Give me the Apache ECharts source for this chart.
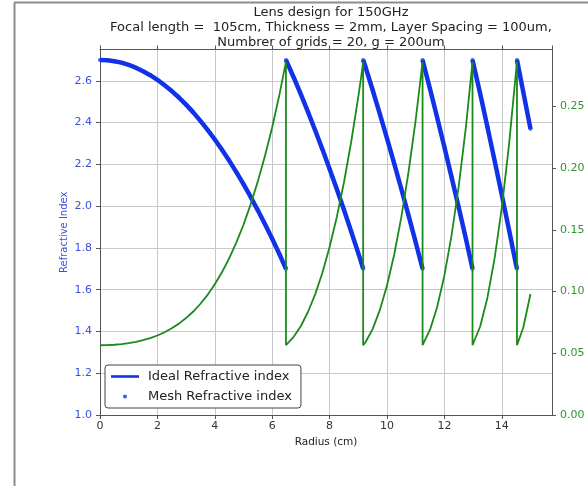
<!DOCTYPE html>
<html>
<head>
<meta charset="utf-8">
<script src="https://cdn.jsdelivr.net/npm/echarts@6/dist/echarts.min.js"></script>
<style>
  html, body { margin: 0; padding: 0; background: #fff; }
  #chart { width: 588px; height: 486px; }
</style>
</head>
<body>
<div id="chart"></div>
<script>
// radius (cm); a zone edge appears twice (end of one zone, start of the next)
const radius = [0, 0.25, 0.5, 0.75, 1, 1.25, 1.5, 1.75, 2, 2.25, 2.5, 2.75, 3, 3.25, 3.5, 3.75,
  4, 4.25, 4.5, 4.75, 5, 5.25, 5.5, 5.75, 6, 6.25, 6.48,
  6.48, 6.75, 7, 7.25, 7.5, 7.75, 8, 8.25, 8.5, 8.75, 9, 9.1, 9.17,
  9.17, 9.25, 9.5, 9.75, 10, 10.25, 10.5, 10.75, 11, 11.24,
  11.24, 11.5, 11.75, 12, 12.25, 12.5, 12.75, 12.98,
  12.98, 13.25, 13.5, 13.75, 14, 14.25, 14.5, 14.53,
  14.53, 14.75, 15];

const idealIndex = [2.700, 2.699, 2.694, 2.687, 2.676, 2.663, 2.646, 2.627, 2.605, 2.579, 2.551, 2.520, 2.486, 2.449, 2.408, 2.365,
  2.319, 2.270, 2.218, 2.163, 2.105, 2.044, 1.980, 1.913, 1.844, 1.771, 1.700,
  2.700, 2.616, 2.535, 2.450, 2.362, 2.272, 2.178, 2.082, 1.983, 1.880, 1.775, 1.732, 1.700,
  2.700, 2.667, 2.556, 2.442, 2.324, 2.205, 2.082, 1.956, 1.827, 1.700,
  2.700, 2.561, 2.423, 2.283, 2.139, 1.993, 1.844, 1.700,
  2.700, 2.537, 2.379, 2.218, 2.054, 1.888, 1.718, 1.700,
  2.700, 2.546, 2.370];

// green curve, right axis
const gridValue = [0.0565, 0.0566, 0.0569, 0.0574, 0.0582, 0.0593, 0.0606, 0.0623, 0.0644, 0.0670, 0.0702, 0.0740, 0.0785, 0.0838, 0.0901, 0.0973,
  0.1059, 0.1156, 0.1268, 0.1396, 0.1541, 0.1706, 0.1892, 0.2099, 0.2330, 0.2592, 0.2860,
  0.0565, 0.0633, 0.0721, 0.0836, 0.0979, 0.1152, 0.1360, 0.1602, 0.1883, 0.2208, 0.2576, 0.2737, 0.2860,
  0.0565, 0.0589, 0.0696, 0.0849, 0.1049, 0.1298, 0.1602, 0.1966, 0.2389, 0.2860,
  0.0565, 0.0691, 0.0877, 0.1129, 0.1454, 0.1853, 0.2331, 0.2860,
  0.0565, 0.0719, 0.0950, 0.1268, 0.1678, 0.2184, 0.2790, 0.2860,
  0.0565, 0.0709, 0.0980];

const titleLines = [
  'Lens design for 150GHz',
  'Focal length =  105cm, Thickness = 2mm, Layer Spacing = 100um,',
  'Numbrer of grids = 20, g = 200um'
];

const FONT = 'DejaVu Sans';
const BLUE = '#1232e8';
const GREEN = '#1a8a1a';
const SPINE = '#555';

// break the ideal line where a zone restarts (same radius twice)
function withBreaks(xs, ys) {
  const out = [];
  xs.forEach((x, i) => {
    if (i > 0 && x === xs[i - 1]) out.push([x, '-']);
    out.push([x, ys[i]]);
  });
  return out;
}

const spineAxis = {
  axisLine: { show: true, onZero: false, lineStyle: { color: SPINE, width: 1 } },
  axisTick: { show: true, inside: false, length: 4, lineStyle: { color: SPINE } }
};

const chart = echarts.init(document.getElementById('chart'), null, { renderer: 'canvas' });

const opt = {
  animation: false,
  textStyle: { fontFamily: FONT },
  title: {
    text: titleLines.join('\n'),
    left: 326,
    top: 0,
    textAlign: 'center',
    textStyle: { fontFamily: FONT, fontSize: 13, fontWeight: 'normal', color: '#222', lineHeight: 15 }
  },
  graphic: [
    { type: 'line', shape: { x1: 14.5, y1: 2.5, x2: 14.5, y2: 486 }, style: { stroke: '#8c8c8c', lineWidth: 2 } },
    { type: 'line', shape: { x1: 14, y1: 2.5, x2: 588, y2: 2.5 }, style: { stroke: '#8c8c8c', lineWidth: 2 } }
  ],
  grid: { left: 100, right: 36, top: 49.5, bottom: 71 },
  legend: {
    orient: 'vertical',
    left: 105,
    top: 365,
    data: [
      { name: 'Ideal Refractive index', icon: 'path://M0,0 L28,0 L28,2.6 L0,2.6 Z' },
      { name: 'Mesh Refractive index', icon: 'circle' }
    ],
    itemWidth: 28,
    itemHeight: 4,
    itemGap: 5,
    padding: [4, 9, 4, 6],
    borderColor: '#444',
    borderWidth: 1,
    borderRadius: 3,
    backgroundColor: '#fff',
    textStyle: { fontFamily: FONT, fontSize: 13, color: '#222', lineHeight: 15, padding: [0, 0, 0, 4] }
  },
  xAxis: [
    {
      type: 'value', min: 0, max: 15.75, interval: 2,
      name: 'Radius (cm)', nameLocation: 'middle', nameGap: 22, nameMoveOverlap: false,
      nameTextStyle: { fontFamily: FONT, fontSize: 10.5, color: '#222' },
      ...spineAxis,
      axisLabel: { color: '#333', fontSize: 11, margin: 6, showMaxLabel: false },
      splitLine: { show: true, lineStyle: { color: '#c8c8c8', width: 1 } }
    },
    {
      type: 'value', position: 'top', min: 0, max: 15.75, interval: 2,
      ...spineAxis,
      axisLabel: { show: false },
      splitLine: { show: false }
    }
  ],
  yAxis: [
    {
      type: 'value', min: 1.0, max: 2.75, interval: 0.2,
      name: 'Refractive Index', nameLocation: 'middle', nameGap: 31, nameRotate: 90, nameMoveOverlap: false,
      nameTextStyle: { fontFamily: FONT, fontSize: 10, color: '#3b4fe0' },
      ...spineAxis,
      axisLabel: { color: '#3b4fe0', fontSize: 11, margin: 8, showMaxLabel: false,
        formatter: (v) => v.toFixed(1) },
      splitLine: { show: true, lineStyle: { color: '#c8c8c8', width: 1 } }
    },
    {
      type: 'value', position: 'right', min: 0, max: 0.296, interval: 0.05,
      ...spineAxis,
      axisLabel: { color: '#2e962e', fontSize: 11, margin: 8, showMaxLabel: false,
        formatter: (v) => v.toFixed(2) },
      splitLine: { show: false }
    }
  ],
  series: [
    {
      name: 'Ideal Refractive index',
      type: 'line',
      xAxisIndex: 0, yAxisIndex: 0,
      symbol: 'none',
      connectNulls: false,
      lineStyle: { color: BLUE, width: 4.5 },
      itemStyle: { color: BLUE },
      data: withBreaks(radius, idealIndex),
      z: 2
    },
    {
      name: 'Mesh Refractive index',
      type: 'scatter',
      xAxisIndex: 0, yAxisIndex: 0,
      symbol: 'circle',
      symbolSize: 4,
      itemStyle: { color: BLUE },
      data: radius.map((x, i) => [x, idealIndex[i]]),
      z: 3
    },
    {
      name: 'grid',
      type: 'line',
      xAxisIndex: 0, yAxisIndex: 1,
      symbol: 'none',
      lineStyle: { color: GREEN, width: 1.8 },
      itemStyle: { color: GREEN },
      data: radius.map((x, i) => [x, gridValue[i]]),
      z: 4
    }
  ]
};

chart.setOption(opt);
</script>
</body>
</html>
